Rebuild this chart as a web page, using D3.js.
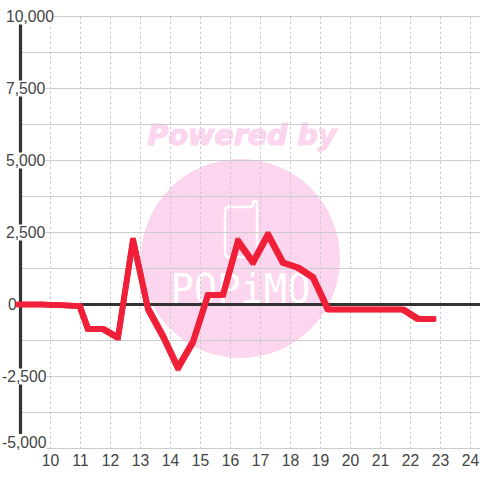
<!DOCTYPE html>
<meta charset="utf-8">
<style>
  html, body { margin: 0; padding: 0; background: #fff; }
  svg { display: block; }
  text { font-family: "Liberation Sans", sans-serif; }
</style>
<script src="https://d3js.org/d3.v7.min.js"></script>
<div id="viz"></div>
<script>
// values
var hours = [8.9, 9.75, 10.97, 11.25, 11.75, 12.25, 12.75, 13.25, 13.75, 14.25, 14.75, 15.25, 15.75, 16.25, 16.75, 17.25, 17.75, 18.25, 18.75, 19.25, 19.75, 20.25, 20.75, 21.25, 21.75, 22.25, 22.8];
var amounts = [0, 0, -50, -850, -850, -1150, 2250, -150, -1100, -2200, -1300, 330, 330, 2200, 1460, 2430, 1450, 1280, 940, -170, -170, -170, -170, -170, -170, -500, -500];
var xTicks = [10, 11, 12, 13, 14, 15, 16, 17, 18, 19, 20, 21, 22, 23, 24];
var yTicks = [10000, 7500, 5000, 2500, 0, -2500, -5000];
var yGrid = [8750, 6250, 3750, 1250, -1250, -3750];

var width = 480, height = 480;

var x = d3.scaleLinear().domain([9, 24]).range([20.5, 470.5]);
var y = d3.scaleLinear().domain([10000, -5000]).range([16.5, 448.5]);

var svg = d3.select("#viz").append("svg")
  .attr("width", width)
  .attr("height", height);

// watermark sits under the grid
var mark = svg.append("g");
mark.append("circle")
  .attr("cx", 240.5).attr("cy", 258.5).attr("r", 99.5)
  .attr("fill", "#fbd6ee");
mark.append("text")
  .attr("x", 242).attr("y", 145)
  .attr("text-anchor", "middle")
  .style("font-family", "DejaVu Sans")
  .style("font-weight", "bold")
  .style("font-style", "italic")
  .style("font-size", "28.5px")
  .attr("fill", "#fbd6ee")
  .attr("stroke", "#fbd6ee")
  .attr("stroke-width", 1.2)
  .text("Powered by");
mark.append("path")
  .attr("d", "M225 211 Q225 207 229 207 L250 207 Q253 207 253 204 Q253 201 255 201 Q257 201 257 204 L257 253 Q257 257 253 257 L229 257 Q225 257 225 253 Z")
  .attr("fill", "none")
  .attr("stroke", "#fff")
  .attr("stroke-width", 2.5);
mark.append("text")
  .attr("x", 240.5).attr("y", 303)
  .attr("text-anchor", "middle")
  .style("font-family", "DejaVu Sans Mono")
  .style("font-size", "41px")
  .attr("fill", "#fff")
  .attr("textLength", 140)
  .attr("lengthAdjust", "spacingAndGlyphs")
  .text("POPiMO");

// horizontal grid
svg.append("g").selectAll("line")
  .data(yTicks.concat(yGrid))
  .enter().append("line")
    .attr("x1", x(9)).attr("x2", width)
    .attr("y1", d => y(d)).attr("y2", d => y(d))
    .attr("stroke", "#ccc");

// vertical grid
svg.append("g").selectAll("line")
  .data(xTicks)
  .enter().append("line")
    .attr("x1", d => x(d)).attr("x2", d => x(d))
    .attr("y1", y(10000)).attr("y2", y(-5000))
    .attr("stroke", "#c8c8c8")
    .attr("stroke-dasharray", "2.5,2.5");

// axis lines
svg.append("line")
  .attr("x1", x(9)).attr("x2", x(9))
  .attr("y1", y(10000)).attr("y2", y(-5000))
  .attr("stroke", "#333").attr("stroke-width", 3.2);
svg.append("line")
  .attr("x1", x(9)).attr("x2", width)
  .attr("y1", y(0)).attr("y2", y(0))
  .attr("stroke", "#333").attr("stroke-width", 3.2);

// y labels with a white box behind them, which cuts the axis
var fmt = d3.format(",");
var yLabels = svg.append("g").selectAll("g")
  .data(yTicks)
  .enter().append("g")
    .attr("transform", d => "translate(" + (d < 0 ? 2 : d === 0 ? 8 : 6) + "," + (d === -5000 ? 442 : y(d)) + ")");
yLabels.append("rect");
yLabels.append("text")
  .attr("dy", "0.35em")
  .attr("fill", "#444")
  .style("font-size", "15.7px")
  .text(d => fmt(d).replace("\u2212", "-"));
yLabels.each(function() {
  var w = d3.select(this).select("text").node().getComputedTextLength();
  d3.select(this).select("rect")
    .attr("x", 0).attr("y", -8)
    .attr("width", w).attr("height", 16)
    .attr("fill", "#fff");
});

// x labels
svg.append("g").selectAll("text")
  .data(xTicks)
  .enter().append("text")
    .attr("x", d => x(d))
    .attr("y", 461)
    .attr("dy", "0.35em")
    .attr("text-anchor", "middle")
    .attr("fill", "#444")
    .style("font-size", "15.7px")
    .text(d => d);

// the series: the reference looks drawn with a square pen, so repeat the
// thin path at small offsets to get the same heavier diagonals
var line = d3.line()
  .x((d, i) => x(hours[i]))
  .y(d => y(d));
var pen = [-1.75, 0, 1.75];
pen.forEach(function(dx) {
  pen.forEach(function(dy) {
    svg.append("path")
      .attr("d", line(amounts))
      .attr("transform", "translate(" + dx + "," + dy + ")")
      .attr("fill", "none")
      .attr("stroke", "#f02039")
      .attr("stroke-width", 2);
  });
});
</script>
